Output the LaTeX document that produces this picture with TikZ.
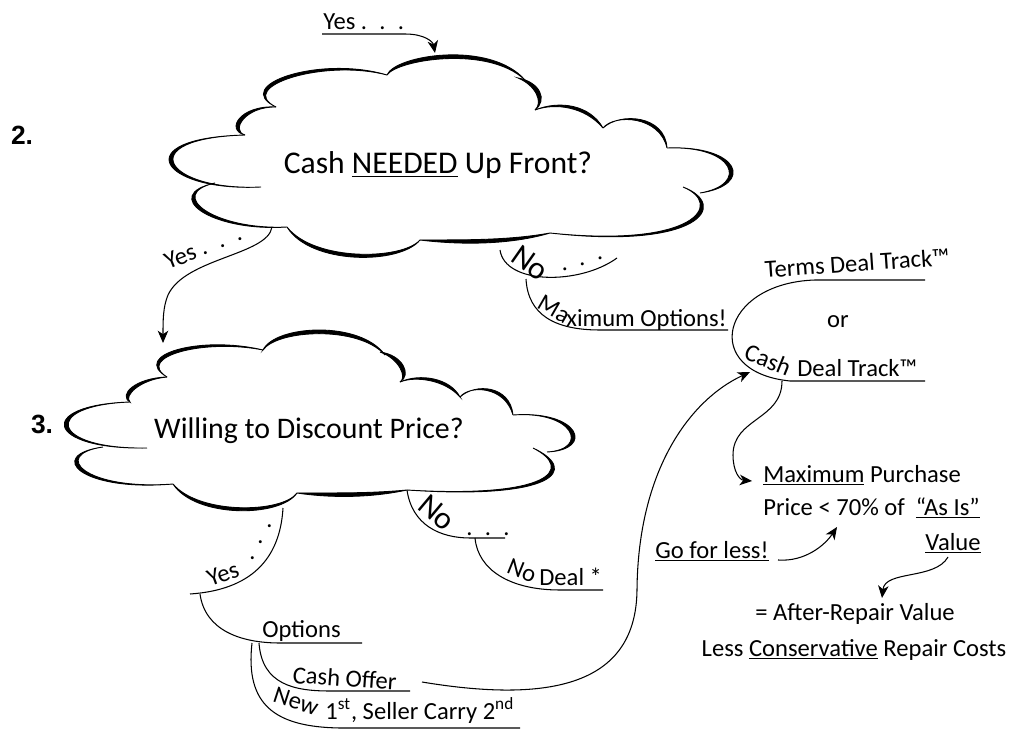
\documentclass[tikz,border=0pt]{standalone}
\usepackage{fontspec}
\setmainfont{Carlito}
\newfontfamily\numfont{Liberation Sans}
\usetikzlibrary{calc,arrows.meta}
\def\puff(#1)(#2)(#3)(#4){\filldraw[line width=0.5pt] (#1) .. controls (#2) and (#3) .. (#4) .. controls ($(#3)!3pt!(ctr)$) and ($(#2)!3pt!(ctr)$) .. (#1) -- cycle;}
\def\trail{.\hskip0.5em.\hskip0.5em.}
\tikzset{
	hand/.style={font=\fontsize{14}{16}\selectfont, inner sep=0pt},
	handbig/.style={font=\fontsize{18}{20}\selectfont, inner sep=0pt},
	stepnum/.style={font=\numfont\bfseries\fontsize{15}{17}\selectfont, inner sep=0pt},
	link/.style={line width=0.6pt},
	arrowlink/.style={link, -{Stealth[length=7pt,width=6pt,inset=2pt]}},
}

\begin{document}
\begin{tikzpicture}[x=0.02cm, y=-0.02cm]
			%%%%% START %%%%%
			
			\useasboundingbox (0,0) rectangle (1011,733);
			
			% cloud 2.
			\coordinate (ctr) at (445,160);
			\puff(387,75)(395,55)(490,40)(525,80)
			\puff(518,78)(540,82)(548,100)(535,110)
			\puff(535,110)(560,100)(590,105)(603,128)
			\puff(603,128)(620,112)(665,115)(667,148)
			\puff(667,148)(740,145)(755,185)(700,193)
			\puff(683,187)(730,205)(700,250)(550,233)
			\puff(550,233)(510,245)(460,245)(420,240)
			\puff(420,240)(400,265)(310,265)(287,227)
			\puff(287,227)(210,232)(160,195)(215,183)
			\puff(261,187)(160,192)(125,138)(245,135)
			\puff(245,135)(225,130)(240,105)(276,107)
			\puff(276,107)(230,85)(320,55)(387,75)
			
			% cloud 3.
			\coordinate (ctr) at (320,430);
			\puff(263,350)(275,325)(360,320)(385,355)
			\puff(380,352)(403,355)(412,375)(400,382)
			\puff(400,382)(420,373)(450,378)(460,397)
			\puff(460,397)(475,383)(510,385)(513,415)
			\puff(513,415)(580,410)(595,450)(547,452)
			\puff(533,448)(580,470)(555,500)(407,490)
			\puff(407,490)(370,498)(330,498)(297,493)
			\puff(297,493)(280,518)(195,518)(173,484)
			\puff(173,484)(80,492)(45,455)(103,447)
			\puff(147,448)(45,450)(35,405)(130,402)
			\puff(130,402)(118,395)(135,378)(167,377)
			\puff(167,377)(130,355)(200,335)(263,350)
			
			\node[stepnum, anchor=base] (stepTwo) at (22,145) {2.};
			\node[stepnum, anchor=base] (stepThree) at (42,433) {3.};
			\node[handbig, anchor=base] (cashQ) at (438,174) {Cash \underline{NEEDED} Up Front?};
			\node[font=\fontsize{17}{19}\selectfont, inner sep=0pt, anchor=base] (discountQ) at (309,438) {Willing to Discount Price?};
			
			\coordinate (cashTop) at (435,53);
			\coordinate (cashYes) at (272,227);
			\coordinate (cashNo) at (500,250);
			\coordinate (discountTop) at (163,343);
			\coordinate (discountYes) at (283,508);
			\coordinate (discountNo) at (407,490);
			
			% yes into cloud 2
			\node[hand, anchor=base west] (yesTop) at (323,30) {Yes \trail};
			\coordinate (yesTopStart) at (322,34);
			\draw[arrowlink] (yesTopStart) -- (405,34) .. controls (425,34) and (433,42) .. (cashTop);
			
			% yes from cloud 2
			\node[hand, rotate=22, anchor=base west] (yesCash) at (168,270) {Yes \trail};
			\draw[arrowlink] (cashYes) .. controls (268,255) and (185,258) .. (168,295) .. controls (163,307) and (163,320) .. (discountTop);
			
			% no from cloud 2
			\coordinate (noCashLow) at (526,279);
			\node[handbig, rotate=-35] (noCash) at (530,263) {No};
			\node[hand, rotate=18, anchor=base west] (noCashDots) at (562,272) {\trail};
			\draw[link] (cashNo) .. controls (505,285) and (580,285) .. (617,258);
			\node[hand, rotate=-30] (maxOptA) at (554,309) {Ma};
			\node[hand, anchor=base west] (maxOptB) at (566,326) {ximum Options!};
			\coordinate (trackLeft) at (728,330);
			\draw[link] (noCashLow) .. controls (528,315) and (555,330) .. (600,330) -- (trackLeft);
			
			% deal tracks
			\draw[link] (925,280) -- (815,280) .. controls (720,283) and (700,372) .. (790,381) -- (925,381);
			\node[hand, rotate=4, anchor=base west] (termsTrack) at (765,278) {Terms Deal Track\texttrademark};
			\node[hand] (orTrack) at (838,322) {or};
			\node[hand, rotate=-22] (cashTrackA) at (768,360) {Cash};
			\node[hand, anchor=base west] (cashTrackB) at (797,376) {Deal Track\texttrademark};
			
			% maximum purchase price
			\node[hand, anchor=base west] (priceA) at (763,482) {\underline{Maximum} Purchase};
			\node[hand, anchor=base west] (priceB) at (763,515) {Price < 70\% of \ \underline{``As Is''}};
			\node[hand, anchor=base] (priceC) at (953,550) {\underline{Value}};
			\coordinate (cashTrackLow) at (782,381);
			\coordinate (priceTip) at (752,481);
			\draw[arrowlink] (cashTrackLow) .. controls (782,420) and (733,418) .. (733,455) .. controls (733,472) and (740,480) .. (priceTip);
			
			\node[hand, anchor=base] (arvA) at (855,620) {= After-Repair Value};
			\node[hand, anchor=base] (arvB) at (854,656) {Less \underline{Conservative} Repair Costs};
			\coordinate (valueLow) at (948,557);
			\coordinate (arvTip) at (882,598);
			\draw[arrowlink] (valueLow) .. controls (935,580) and (885,570) .. (arvTip);
			
			\node[hand, anchor=base west] (goLess) at (655,558) {\underline{Go for less!}};
			\coordinate (goLessEnd) at (778,560);
			\coordinate (goLessTip) at (837,527);
			\draw[arrowlink] (goLessEnd) .. controls (805,562) and (825,545) .. (goLessTip);
			
			% no from cloud 3
			\node[handbig, rotate=-40] (noDisc) at (437,513) {No};
			\node[hand, anchor=base west] (noDiscDots) at (466,535) {\trail};
			\draw[link] (discountNo) .. controls (412,525) and (440,538) .. (470,538) -- (505,538);
			\coordinate (noDiscLow) at (475,538);
			\node[hand, rotate=-22] (noDealA) at (522,571) {No};
			\node[hand, anchor=base west] (noDealB) at (539,585) {Deal *};
			\draw[link] (noDiscLow) .. controls (478,570) and (510,590) .. (560,590) -- (603,590);
			
			% yes from cloud 3
			\node[hand, rotate=20] (yesDisc) at (223,574) {Yes};
			\node[hand, rotate=62, anchor=base west] (yesDiscDots) at (252,562) {\trail};
			\coordinate (yesDiscLow) at (200,594);
			\draw[link] (discountYes) .. controls (280,560) and (250,590) .. (190,594);
			
			% options
			\node[hand, anchor=base west] (options) at (262,637) {Options};
			\draw[link] (yesDiscLow) .. controls (205,630) and (240,643) .. (280,643) -- (362,643);
			\coordinate (optA) at (259,643);
			\coordinate (optB) at (252,643);
			\node[hand, rotate=-4, anchor=base west] (cashOffer) at (292,683) {Cash Offer};
			\draw[link] (optA) .. controls (262,685) and (295,691) .. (330,691) -- (410,691);
			\node[hand, rotate=-18] (newFirstA) at (296,701) {New};
			\node[hand, anchor=base west] (newFirstB) at (325,719) {1\textsuperscript{st}, Seller Carry 2\textsuperscript{nd}};
			\draw[link] (optB) .. controls (245,705) and (275,727) .. (340,728) -- (520,728);
			
			% cash offer to cash deal track
			\coordinate (cashOfferEnd) at (422,682);
			\coordinate (cashTrackTip) at (750,372);
			\draw[arrowlink] (cashOfferEnd) .. controls (560,705) and (636,680) .. (637,590) .. controls (638,470) and (690,400) .. (cashTrackTip);
			
			%%%%% END %%%%%
\end{tikzpicture}
\end{document}
